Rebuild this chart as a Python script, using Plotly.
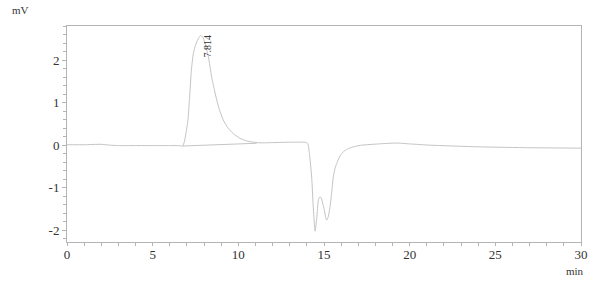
import plotly.graph_objects as go

# Chromatogram data (time in min, signal in mV)
time_min = [0, 1, 2, 2.5, 3, 4, 5, 6, 6.5, 6.75, 6.85, 6.95, 7.06, 7.16, 7.26, 7.36, 7.47, 7.6, 7.7, 7.81,
            7.95, 8.1, 8.25, 8.44, 8.6, 8.74, 8.9, 9.12, 9.4, 9.71, 10.1, 10.49, 10.9, 11.27, 12, 13,
            13.6, 13.9, 14.05, 14.15, 14.28, 14.38, 14.48, 14.58, 14.67, 14.75, 14.83, 14.92, 15.02,
            15.1, 15.16, 15.25, 15.35, 15.45, 15.54, 15.64, 15.74, 15.88, 16.03, 16.2, 16.42, 16.8,
            17.2, 18.2, 19.2, 20, 21.2, 24.1, 27, 30]
signal_mv = [0.01, 0.01, 0.02, 0.0, -0.01, -0.01, -0.01, -0.01, -0.01, -0.02, 0.08, 0.3, 0.59, 1.15, 1.76,
             2.12, 2.31, 2.45, 2.53, 2.58, 2.52, 2.32, 2.08, 1.61, 1.3, 1.06, 0.83, 0.59, 0.4, 0.27,
             0.16, 0.10, 0.07, 0.055, 0.06, 0.07, 0.07, 0.07, 0.04, -0.2, -0.75, -1.5, -2.02, -1.7,
             -1.29, -1.22, -1.23, -1.36, -1.53, -1.7, -1.76, -1.68, -1.45, -1.1, -0.75, -0.55, -0.43,
             -0.3, -0.2, -0.13, -0.08, -0.03, 0.0, 0.03, 0.05, 0.03, 0.0, -0.04, -0.06, -0.07]

# Integration baseline of the labelled peak
baseline_t = [6.75, 11.07]
baseline_v = [-0.02, 0.045]

peak_rt = 7.814
peak_label = "7.814"

x_ticks = [0, 5, 10, 15, 20, 25, 30]
y_ticks = [-2, -1, 0, 1, 2]

line_col = "#c4c4c4"
axis_col = "#b4b4b4"
text_col = "#333"
font_fam = "Liberation Serif"

fig = go.Figure()
fig.add_trace(go.Scatter(x=time_min, y=signal_mv, mode="lines",
                         line=dict(color=line_col, width=1, shape="spline", smoothing=0.5),
                         hoverinfo="skip"))
fig.add_trace(go.Scatter(x=baseline_t, y=baseline_v, mode="lines",
                         line=dict(color=line_col, width=1), hoverinfo="skip"))

fig.add_annotation(x=peak_rt + 0.38, y=2.33, text=peak_label, textangle=-90, showarrow=False,
                   font=dict(family=font_fam, size=10, color=text_col))
fig.add_annotation(xref="paper", yref="paper", x=-0.091, y=1.074, text="mV", showarrow=False,
                   xanchor="center", yanchor="middle",
                   font=dict(family=font_fam, size=11, color=text_col))
fig.add_annotation(xref="paper", yref="paper", x=0.988, y=-0.135, text="min", showarrow=False,
                   xanchor="center", yanchor="middle",
                   font=dict(family=font_fam, size=11, color=text_col))

fig.update_xaxes(range=[0, 30], tickvals=x_ticks, ticktext=[str(v) for v in x_ticks],
                 showgrid=False, zeroline=False, showline=True, linecolor=axis_col, mirror=True,
                 ticks="outside", ticklen=3, tickcolor=axis_col, ticklabelstandoff=-3,
                 minor=dict(dtick=1, ticks="outside", ticklen=3, tickcolor=axis_col),
                 tickfont=dict(family=font_fam, size=13, color=text_col))
fig.update_yaxes(range=[-2.275, 2.8], tickvals=y_ticks, ticktext=[str(v) for v in y_ticks],
                 showgrid=False, zeroline=False, showline=True, linecolor=axis_col, mirror=True,
                 ticks="outside", ticklen=4, tickcolor=axis_col,
                 minor=dict(tick0=0, dtick=0.2, ticks="outside", ticklen=3, tickcolor=axis_col),
                 tickfont=dict(family=font_fam, size=13, color=text_col))

fig.update_layout(width=600, height=281, margin=dict(l=67, r=19, t=26, b=39),
                  paper_bgcolor="white", plot_bgcolor="white", showlegend=False)

fig.write_html("out.html")
